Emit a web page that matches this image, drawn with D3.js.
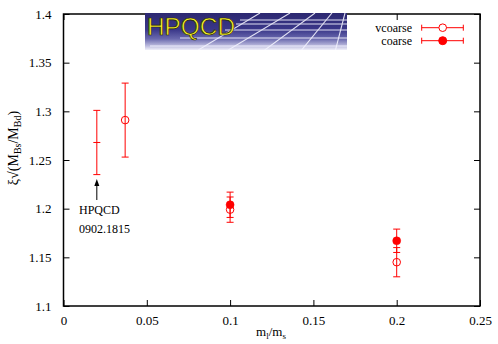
<!DOCTYPE html>
<html><head><meta charset="utf-8">
<script src="https://cdn.jsdelivr.net/npm/d3@7"></script>
<style>body{margin:0;background:#fff}svg{display:block}</style>
</head><body>
<svg id="c" width="498" height="344"></svg>
<script>
// data
const vcoarseX = [0.037, 0.1, 0.2];
const vcoarseY = [1.291, 1.199, 1.145];
const vcoarseErr = [0.038, 0.013, 0.015];
const coarseX = [0.1, 0.2];
const coarseY = [1.204, 1.167];
const coarseErr = [0.013, 0.012];
const hpqcdX = [0.02];
const hpqcdY = [1.268];
const hpqcdErr = [0.033];
const xTicks = [0, 0.05, 0.1, 0.15, 0.2, 0.25];
const xTickLabels = ["0", "0.05", "0.1", "0.15", "0.2", "0.25"];
const yTicks = [1.1, 1.15, 1.2, 1.25, 1.3, 1.35, 1.4];
const yTickLabels = ["1.1", "1.15", "1.2", "1.25", "1.3", "1.35", "1.4"];

const svg = d3.select("#c");
const L = 63.5, R = 480, T = 14, B = 306;
const x = d3.scaleLinear().domain([0, 0.25]).range([L, R]);
const y = d3.scaleLinear().domain([1.1, 1.4]).range([B, T]);
const serif = "Liberation Serif, Times New Roman, serif";
const red = "#ff0000";

function styleAxis(g) {
  g.attr("font-family", serif);
  g.select(".domain").remove();
  g.selectAll(".tick line").attr("stroke", "#000").attr("stroke-width", 1);
  g.selectAll(".tick text").attr("font-family", serif).attr("font-size", 13).attr("fill", "#000");
}
svg.append("g").attr("transform", `translate(0,${B})`)
  .call(d3.axisBottom(x).tickValues(xTicks).tickFormat((d, i) => xTickLabels[i]).tickSizeInner(-6).tickSizeOuter(0).tickPadding(10))
  .call(styleAxis);
svg.append("g").attr("transform", `translate(0,${T})`)
  .call(d3.axisTop(x).tickValues(xTicks).tickFormat("").tickSizeInner(-6).tickSizeOuter(0))
  .call(styleAxis);
svg.append("g").attr("transform", `translate(${L},0)`)
  .call(d3.axisLeft(y).tickValues(yTicks).tickFormat((d, i) => yTickLabels[i]).tickSizeInner(-6).tickSizeOuter(0).tickPadding(12))
  .call(styleAxis);
svg.append("g").attr("transform", `translate(${R},0)`)
  .call(d3.axisRight(y).tickValues(yTicks).tickFormat("").tickSizeInner(-6).tickSizeOuter(0))
  .call(styleAxis);

svg.append("rect").attr("x", L).attr("y", T).attr("width", R - L).attr("height", B - T)
  .attr("fill", "none").attr("stroke", "#000").attr("stroke-width", 1.5);

// logo
const defs = svg.append("defs");
const gr = defs.append("linearGradient").attr("id", "lg").attr("x1", 0).attr("y1", 0).attr("x2", 0).attr("y2", 1);
[[0, "#2c2870"], [0.45, "#3a3789"], [0.7, "#6a69ae"], [0.88, "#b9b8dc"], [1, "#f0f0fa"]]
  .forEach(s => gr.append("stop").attr("offset", s[0]).attr("stop-color", s[1]));
defs.append("clipPath").attr("id", "lc").append("rect").attr("x", 145).attr("y", 13).attr("width", 202).attr("height", 37);
const logo = svg.append("g").attr("clip-path", "url(#lc)");
logo.append("rect").attr("x", 145).attr("y", 13).attr("width", 202).attr("height", 37).attr("fill", "url(#lg)");
const lw = logo.append("g").attr("stroke", "#f4f4ff").attr("stroke-width", 1.1).attr("opacity", 0.9);
[[240, 20], [236, 24], [225, 30], [180, 38], [150, 46]].forEach(h =>
  lw.append("line").attr("x1", h[0]).attr("y1", h[1]).attr("x2", 347).attr("y2", h[1]));
[[195, 52, 260, 13], [225, 52, 290, 13], [262, 52, 315, 13], [300, 52, 332, 13], [335, 52, 345, 13]].forEach(d =>
  lw.append("line").attr("x1", d[0]).attr("y1", d[1]).attr("x2", d[2]).attr("y2", d[3]));
logo.append("text").attr("x", 147).attr("y", 34.5).text("HPQCD")
  .attr("font-family", "Liberation Sans, Arial, sans-serif").attr("font-size", 24)
  .attr("textLength", 88).attr("lengthAdjust", "spacingAndGlyphs")
  .attr("fill", "#f6f22a").attr("stroke", "#2a2800").attr("stroke-width", 0.7);

// error bars helper
function errbar(g, xv, yv, ev, cap) {
  const px = x(xv);
  g.append("line").attr("x1", px).attr("x2", px).attr("y1", y(yv - ev)).attr("y2", y(yv + ev));
  [yv - ev, yv + ev].forEach(v =>
    g.append("line").attr("x1", px - cap).attr("x2", px + cap).attr("y1", y(v)).attr("y2", y(v)));
}
const eg = svg.append("g").attr("stroke", red).attr("stroke-width", 1).attr("fill", "none");
vcoarseX.forEach((d, i) => errbar(eg, d, vcoarseY[i], vcoarseErr[i], 3.5));
coarseX.forEach((d, i) => errbar(eg, d, coarseY[i], coarseErr[i], 3.5));
hpqcdX.forEach((d, i) => {
  errbar(eg, d, hpqcdY[i], hpqcdErr[i], 3.5);
  eg.append("line").attr("x1", x(d) - 3.5).attr("x2", x(d) + 3.5).attr("y1", y(hpqcdY[i])).attr("y2", y(hpqcdY[i]));
});
svg.append("g").selectAll("circle").data(vcoarseX).join("circle")
  .attr("cx", d => x(d)).attr("cy", (d, i) => y(vcoarseY[i])).attr("r", 3.8)
  .attr("fill", "none").attr("stroke", red).attr("stroke-width", 1);
svg.append("g").selectAll("circle").data(coarseX).join("circle")
  .attr("cx", d => x(d)).attr("cy", (d, i) => y(coarseY[i])).attr("r", 4)
  .attr("fill", red).attr("stroke", red).attr("stroke-width", 0.5);

// annotation
const ax = x(hpqcdX[0]);
svg.append("line").attr("x1", ax).attr("x2", ax).attr("y1", 200).attr("y2", 183)
  .attr("stroke", "#000").attr("stroke-width", 1);
svg.append("path").attr("d", `M${ax},179 L${ax - 2.5},186 L${ax + 2.5},186 Z`).attr("fill", "#000");
svg.append("text").attr("x", 79).attr("y", 213.5).text("HPQCD").attr("font-family", serif).attr("font-size", 12);
svg.append("text").attr("x", 79).attr("y", 232.5).text("0902.1815").attr("font-family", serif).attr("font-size", 12);

// legend
const leg = [["vcoarse", false, 27.7], ["coarse", true, 40.7]];
leg.forEach(l => {
  const g = svg.append("g");
  g.append("text").attr("x", 412).attr("y", l[2] + 4).attr("text-anchor", "end").text(l[0])
    .attr("font-family", serif).attr("font-size", 12);
  const ls = g.append("g").attr("stroke", red).attr("stroke-width", 1);
  ls.append("line").attr("x1", 421.7).attr("x2", 463.3).attr("y1", l[2]).attr("y2", l[2]);
  [421.7, 463.3].forEach(p => ls.append("line").attr("x1", p).attr("x2", p).attr("y1", l[2] - 3).attr("y2", l[2] + 3));
  g.append("circle").attr("cx", 442.7).attr("cy", l[2]).attr("r", l[1] ? 4 : 3.8)
    .attr("fill", l[1] ? red : "#fff").attr("stroke", red);
});

// axis titles
const xt = svg.append("text").attr("x", 271).attr("y", 336).attr("text-anchor", "middle")
  .attr("font-family", serif).attr("font-size", 13);
xt.append("tspan").text("m");
xt.append("tspan").text("l").attr("font-size", 9).attr("dy", 3);
xt.append("tspan").text("/m").attr("dy", -3);
xt.append("tspan").text("s").attr("font-size", 9).attr("dy", 3);

const yt = svg.append("text").attr("transform", "translate(18,148) rotate(-90)").attr("text-anchor", "middle")
  .attr("font-family", serif).attr("font-size", 14);
yt.append("tspan").text("ξ√(M");
yt.append("tspan").text("Bs").attr("font-size", 10).attr("dy", 3);
yt.append("tspan").text("/M").attr("dy", -3);
yt.append("tspan").text("Bd").attr("font-size", 10).attr("dy", 3);
yt.append("tspan").text(")").attr("dy", -3);
</script>
</body></html>
